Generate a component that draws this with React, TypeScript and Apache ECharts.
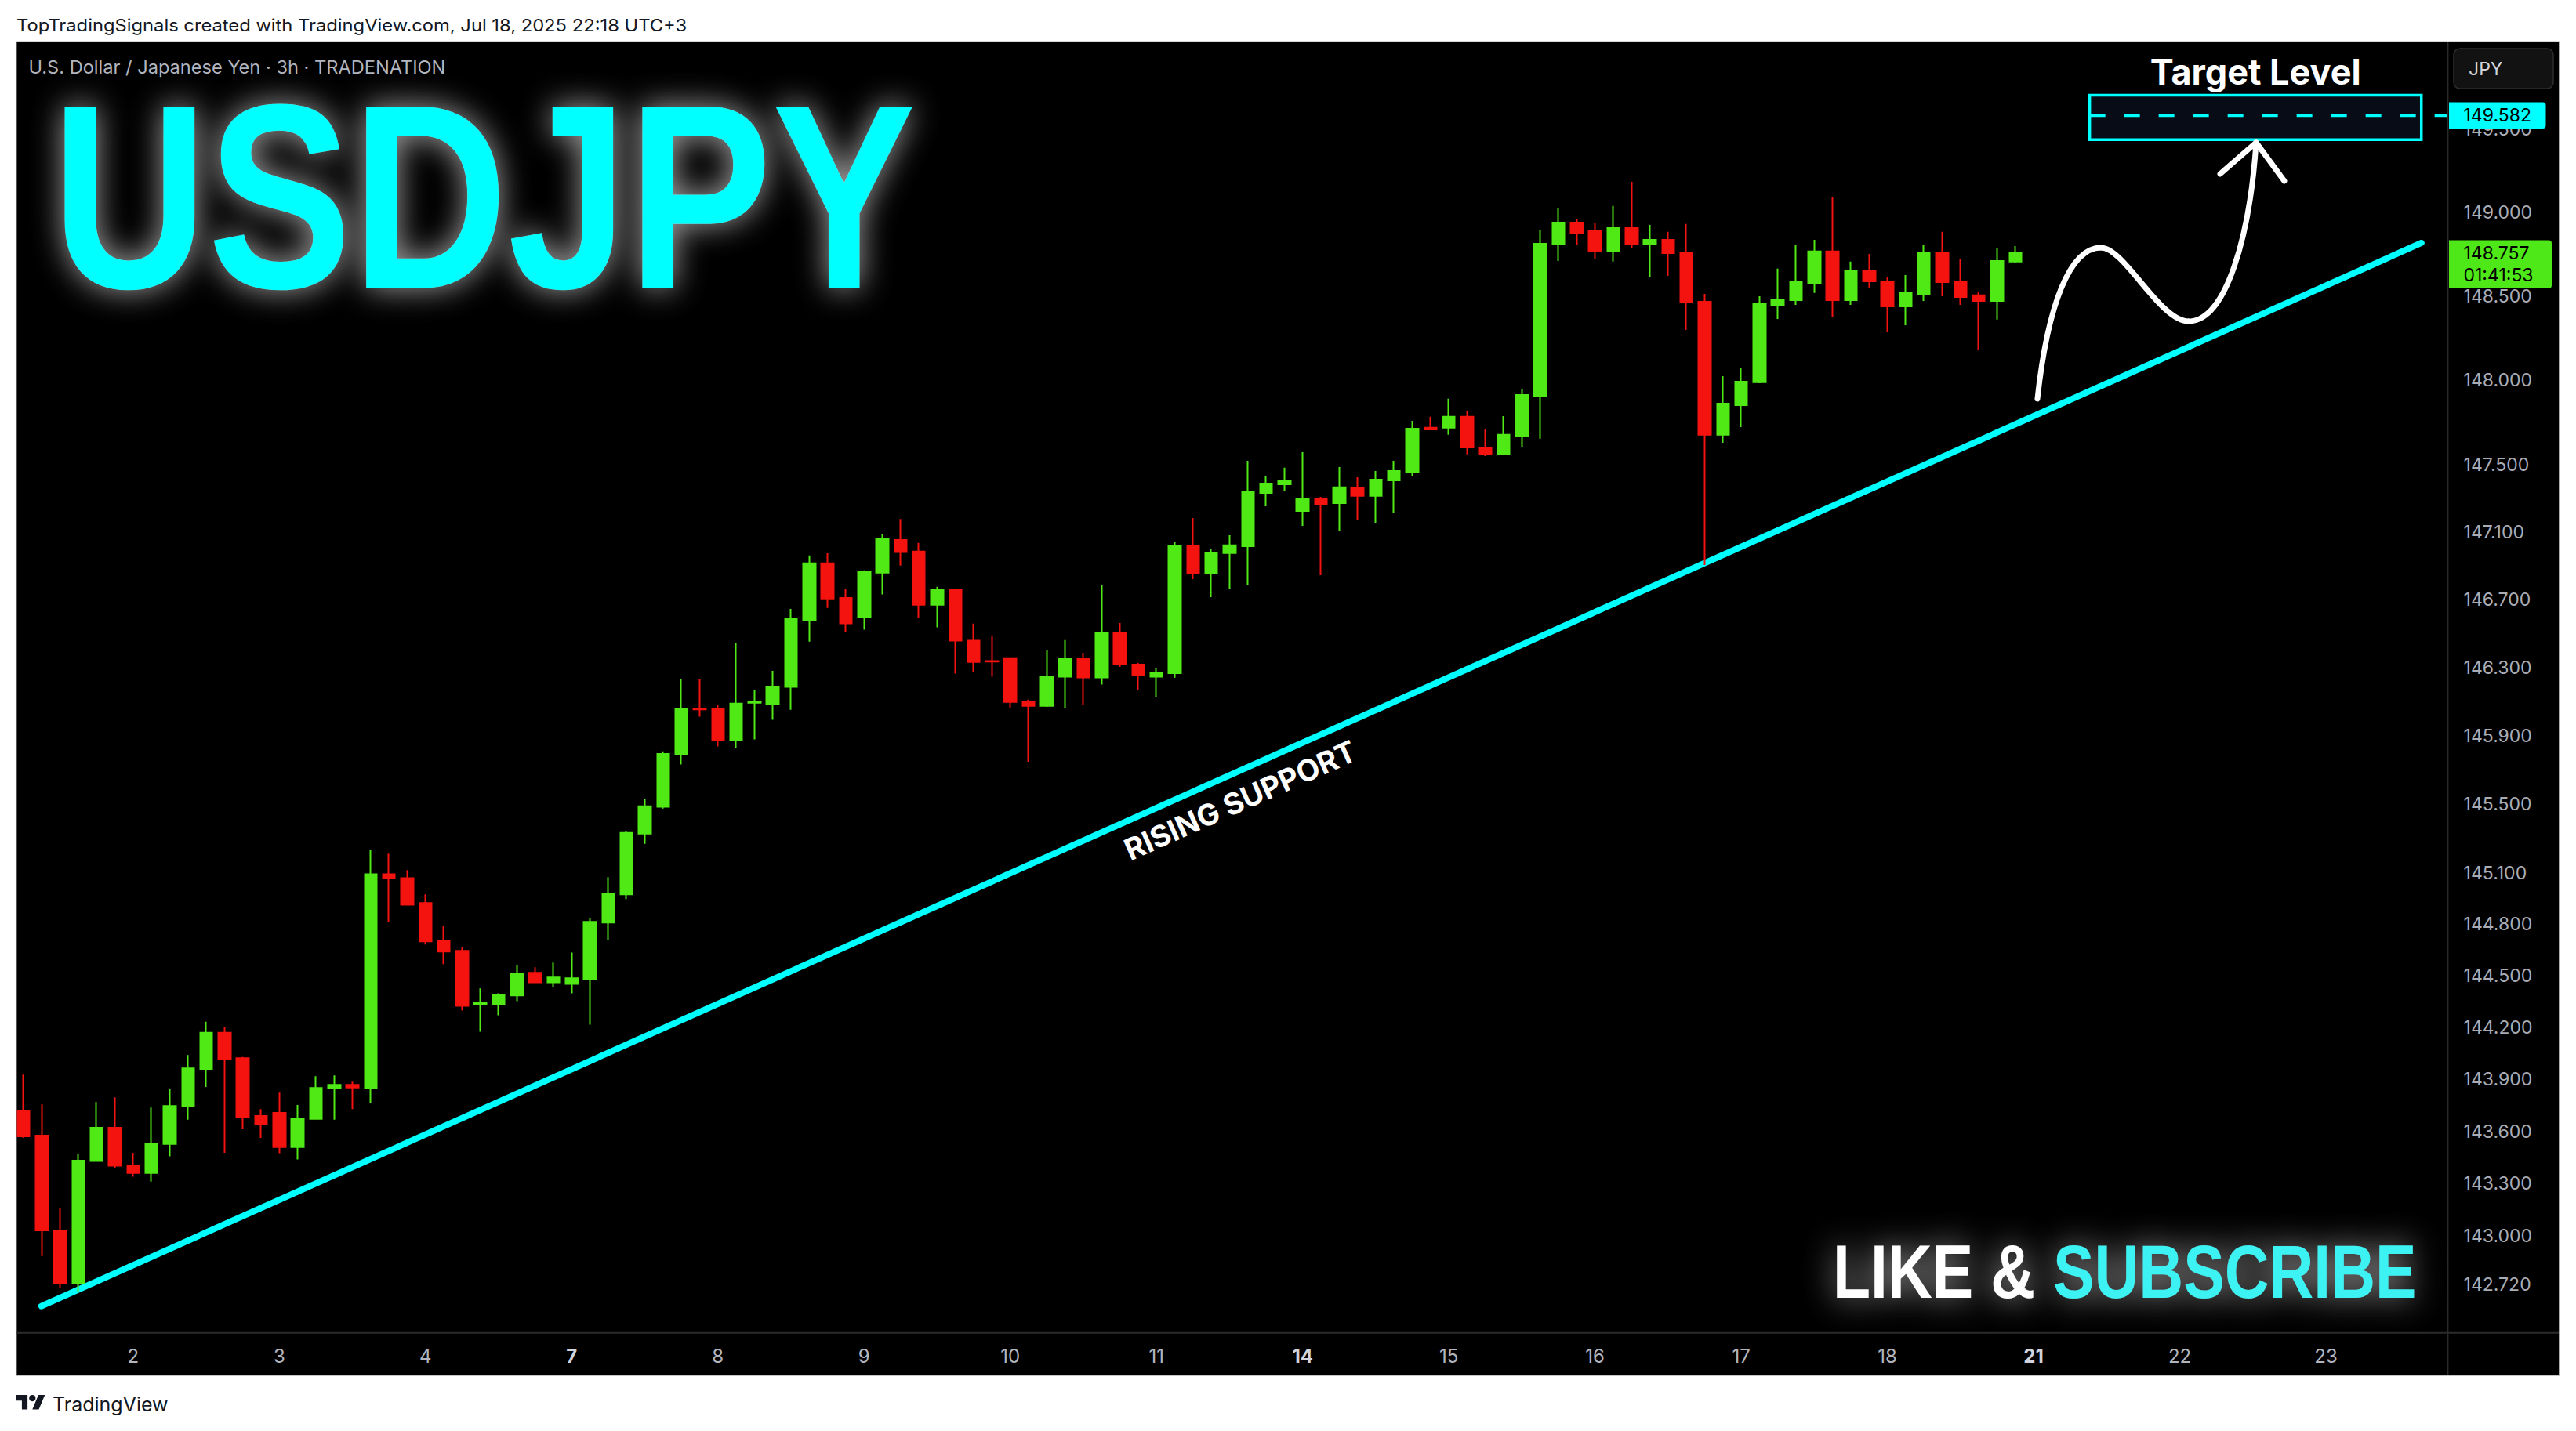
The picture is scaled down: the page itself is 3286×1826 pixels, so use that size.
import React, { useEffect, useRef } from 'react';
import * as echarts from 'echarts';

// ---------- data (USDJPY 3h, TRADENATION) ----------
const opens = [
  143.720, 143.576, 143.030, 142.725, 143.429, 143.621, 143.400, 143.361, 143.528, 143.744,
  143.961, 144.171, 144.023, 143.689, 143.707, 143.510, 143.672, 143.848, 143.869, 143.851,
  145.092, 145.069, 144.924, 144.705, 144.646, 144.338, 144.336, 144.386, 144.518, 144.463,
  144.454, 144.481, 144.810, 144.974, 145.328, 145.485, 145.793, 146.058, 146.056, 145.874,
  146.094, 146.085, 146.187, 146.581, 146.915, 146.711, 146.598, 146.860, 147.053, 146.984,
  146.670, 146.761, 146.459, 146.339, 146.356, 146.101, 146.076, 146.247, 146.351, 146.242,
  146.508, 146.319, 146.247, 146.268, 147.016, 146.859, 146.975, 147.016, 147.331, 147.382,
  147.224, 147.294, 147.271, 147.359, 147.313, 147.405, 147.456, 147.717, 147.717, 147.782,
  147.600, 147.563, 147.670, 147.907, 148.809, 148.940, 148.893, 148.771, 148.907, 148.809,
  148.837, 148.762, 148.467, 147.675, 147.851, 147.987, 148.448, 148.476, 148.579, 148.767,
  148.476, 148.654, 148.589, 148.439, 148.514, 148.757, 148.589, 148.505, 148.472, 148.706,
];
const closes = [
  143.572, 143.030, 142.725, 143.432, 143.621, 143.402, 143.361, 143.531, 143.747, 143.964,
  144.171, 144.015, 143.681, 143.641, 143.510, 143.675, 143.851, 143.869, 143.853, 145.092,
  145.069, 144.914, 144.700, 144.641, 144.326, 144.345, 144.390, 144.513, 144.463, 144.491,
  144.486, 144.814, 144.978, 145.333, 145.488, 145.794, 146.056, 146.055, 145.874, 146.089,
  146.098, 146.190, 146.586, 146.915, 146.707, 146.560, 146.863, 147.058, 146.981, 146.670,
  146.761, 146.459, 146.333, 146.336, 146.099, 146.076, 146.250, 146.351, 146.242, 146.508,
  146.320, 146.254, 146.273, 147.016, 146.859, 146.979, 147.021, 147.336, 147.387, 147.405,
  147.294, 147.266, 147.364, 147.313, 147.410, 147.461, 147.712, 147.707, 147.782, 147.600,
  147.563, 147.675, 147.912, 148.813, 148.940, 148.879, 148.771, 148.907, 148.809, 148.837,
  148.757, 148.462, 147.675, 147.861, 147.991, 148.453, 148.481, 148.584, 148.767, 148.476,
  148.654, 148.589, 148.439, 148.519, 148.757, 148.584, 148.495, 148.472, 148.710, 148.757,
];
const lows = [
  143.564, 142.883, 142.700, 142.677, 143.428, 143.388, 143.339, 143.311, 143.456, 143.668,
  143.857, 143.477, 143.612, 143.563, 143.474, 143.438, 143.668, 143.668, 143.729, 143.762,
  144.814, 144.910, 144.682, 144.568, 144.299, 144.176, 144.272, 144.354, 144.463, 144.436,
  144.399, 144.217, 144.709, 144.946, 145.269, 145.475, 145.732, 146.012, 145.838, 145.828,
  145.879, 145.994, 146.053, 146.453, 146.652, 146.512, 146.524, 146.731, 146.901, 146.593,
  146.537, 146.265, 146.277, 146.247, 146.066, 145.749, 146.070, 146.063, 146.081, 146.201,
  146.305, 146.167, 146.126, 146.241, 146.822, 146.715, 146.766, 146.785, 147.252, 147.340,
  147.136, 146.845, 147.104, 147.169, 147.150, 147.215, 147.433, 147.703, 147.675, 147.559,
  147.549, 147.563, 147.605, 147.652, 148.710, 148.809, 148.720, 148.706, 148.785, 148.617,
  148.621, 148.299, 146.905, 147.628, 147.721, 147.982, 148.364, 148.448, 148.519, 148.378,
  148.448, 148.547, 148.285, 148.327, 148.472, 148.500, 148.448, 148.182, 148.360, 148.696,
];
const highs = [
  143.928, 143.756, 143.161, 143.472, 143.770, 143.797, 143.477, 143.738, 143.847, 144.041,
  144.234, 144.203, 144.030, 143.729, 143.824, 143.752, 143.919, 143.923, 143.887, 145.233,
  145.211, 145.115, 144.974, 144.791, 144.668, 144.427, 144.399, 144.564, 144.550, 144.577,
  144.636, 144.837, 145.074, 145.341, 145.529, 145.809, 146.231, 146.236, 146.083, 146.443,
  146.167, 146.282, 146.646, 146.961, 146.974, 146.761, 146.873, 147.090, 147.177, 147.035,
  146.776, 146.764, 146.559, 146.485, 146.360, 146.112, 146.406, 146.462, 146.388, 146.785,
  146.563, 146.328, 146.296, 147.039, 147.183, 146.998, 147.081, 147.521, 147.433, 147.480,
  147.572, 147.308, 147.484, 147.424, 147.461, 147.521, 147.758, 147.782, 147.889, 147.819,
  147.707, 147.786, 147.945, 148.893, 149.024, 148.963, 148.935, 149.039, 149.184, 148.926,
  148.884, 148.931, 148.514, 148.024, 148.070, 148.500, 148.664, 148.804, 148.837, 149.090,
  148.706, 148.752, 148.612, 148.626, 148.809, 148.884, 148.724, 148.523, 148.790, 148.799,
];

const dayTickIndex = [6, 14, 22, 30, 38, 46, 54, 62, 70, 78, 86, 94, 102, 110, 118, 126];
const dayTickLabels = ['2', '3', '4', '7', '8', '9', '10', '11', '14', '15', '16', '17', '18', '21', '22', '23'];
const weekStartLabels = ['7', '14', '21'];
const slotCount = 133;

const priceTicks = [142.72, 143.0, 143.3, 143.6, 143.9, 144.2, 144.5, 144.8, 145.1, 145.5, 145.9, 146.3, 146.7, 147.1, 147.5, 148.0, 148.5, 149.0, 149.5];
const priceMin = 142.443;
const priceMax = 150.022;

const supportLine = [[0.98, 142.596], [131.22, 148.818]];
const targetBoxX = [113.07, 131.22];
const targetBoxY = [149.436, 149.703];
const targetPrice = 149.582;
const targetLineEnd = 132.66;
const lastPrice = 148.757;
const countdown = '01:41:53';
const arrowCurve = [
  [110.21, 147.889], [110.77, 148.444], [111.97, 148.790], [113.69, 148.790],
  [114.97, 148.790], [116.90, 148.350], [118.49, 148.350],
  [120.55, 148.350], [121.84, 148.865], [122.18, 149.419],
];
const arrowHead = [[120.21, 149.231], [122.18, 149.419], [123.72, 149.189]];
const supportLabelAnchor = [66.58, 145.524];

const GREEN = '#50e916';
const RED = '#f5130f';
const CYAN = '#00ffff';
const UI_FONT = 'Inter, "DejaVu Sans", sans-serif';
const DISPLAY = '"Liberation Sans", Arial, sans-serif';

echarts.graphic.registerShape(
  'tvlogo',
  echarts.graphic.extendPath('M14 22H7V11H0V4h14v18zM28 22h-8l7.5-18h8L28 22zM24 8a4 4 0 1 1 -8 0a4 4 0 1 1 8 0z', {})
);

export default function App() {
  const ref = useRef<HTMLDivElement>(null);

  useEffect(() => {
    if (!ref.current) return;
    const chart = echarts.init(ref.current, null, { renderer: 'svg' });

    const categories = Array.from({ length: slotCount }, (_, i) => {
      const k = dayTickIndex.indexOf(i);
      return k >= 0 ? dayTickLabels[k] : '';
    });
    const candleData = opens.map((o, i) => [o, closes[i], lows[i], highs[i]]);

    chart.setOption({
      animation: false,
      backgroundColor: '#ffffff',
      grid: { left: 18.35, top: 54, width: 3100.2, height: 1646.7 },
      xAxis: [
        {
          type: 'category',
          data: categories,
          boundaryGap: true,
          axisLine: { show: false },
          axisTick: { show: false },
          splitLine: { show: false },
          axisLabel: {
            interval: 0,
            margin: 29.3,
            verticalAlign: 'middle',
            color: '#b2b5be',
            fontFamily: UI_FONT,
            fontSize: 24,
            formatter: (v: string) => (weekStartLabels.includes(v) ? `{b|${v}}` : v),
            rich: { b: { fontWeight: 'bold', color: '#d1d4dc', fontFamily: UI_FONT, fontSize: 24 } },
          },
        },
        { type: 'value', min: -0.5, max: slotCount - 0.5, show: false },
      ],
      yAxis: {
        type: 'log',
        logBase: 10,
        min: priceMin,
        max: priceMax,
        position: 'right',
        axisLine: { show: false },
        axisTick: { show: false },
        splitLine: { show: false },
        axisLabel: {
          customValues: priceTicks,
          formatter: (v: number) => Number(v).toFixed(3),
          color: '#a9acb5',
          fontFamily: UI_FONT,
          fontSize: 23,
          margin: 24,
          align: 'left',
          verticalAlign: 'middle',
        },
      },
      series: [
        {
          type: 'line',
          xAxisIndex: 1,
          yAxisIndex: 0,
          data: supportLine,
          symbol: 'none',
          clip: false,
          silent: true,
          z: 2,
          lineStyle: { color: CYAN, width: 8, cap: 'round' },
        },
        {
          type: 'candlestick',
          xAxisIndex: 0,
          yAxisIndex: 0,
          data: candleData,
          barWidth: 16,
          z: 3,
          itemStyle: { color: GREEN, color0: RED, borderColor: GREEN, borderColor0: RED, borderWidth: 2 },
        },
        {
          type: 'line',
          xAxisIndex: 1,
          yAxisIndex: 0,
          data: [],
          z: 4,
          markArea: {
            silent: true,
            itemStyle: { color: '#070c16', borderColor: CYAN, borderWidth: 3.5 },
            data: [[{ xAxis: targetBoxX[0], yAxis: targetBoxY[1] }, { xAxis: targetBoxX[1], yAxis: targetBoxY[0] }]],
          },
        },
        {
          type: 'line',
          xAxisIndex: 1,
          yAxisIndex: 0,
          data: [[targetBoxX[0], targetPrice], [targetLineEnd, targetPrice]],
          symbol: 'none',
          clip: false,
          silent: true,
          z: 5,
          lineStyle: { color: CYAN, width: 4, type: [20, 24] },
        },
      ],
    });

    const toPx = (p: number[]) => chart.convertToPixel({ xAxisIndex: 1, yAxisIndex: 0 }, p) as number[];
    const yOf = (price: number) => chart.convertToPixel({ yAxisIndex: 0 }, price) as number;

    const c = arrowCurve.map(toPx);
    const head = arrowHead.map(toPx);
    const boxTL = toPx([targetBoxX[0], targetBoxY[1]]);
    const boxBR = toPx([targetBoxX[1], targetBoxY[0]]);
    const lab = toPx(supportLabelAnchor);
    const sA = toPx(supportLine[0]);
    const sB = toPx(supportLine[1]);
    const angle = Math.atan2(sA[1] - sB[1], sB[0] - sA[0]);
    const yTarget = yOf(targetPrice);
    const yLast = yOf(lastPrice);

    const white = { stroke: '#ffffff', lineWidth: 7, lineCap: 'round', lineJoin: 'round', fill: null };
    const glow = { textShadowColor: 'rgba(180,180,180,0.95)', textShadowBlur: 40 };

    const graphics: any[] = [
      // chart pane
      { type: 'rect', z: -1, silent: true, shape: { x: 20.7, y: 53.3, width: 3244.1, height: 1701.7 }, style: { fill: '#000000', stroke: '#b4b4b4', lineWidth: 1.5 } },
      { type: 'line', z: 1, silent: true, shape: { x1: 21.5, y1: 1700.7, x2: 3264, y2: 1700.7 }, style: { stroke: '#2b2b2b', lineWidth: 2 } },
      { type: 'line', z: 1, silent: true, shape: { x1: 3122.4, y1: 54, x2: 3122.4, y2: 1754 }, style: { stroke: '#2b2b2b', lineWidth: 2 } },
      // header & titles
      { type: 'text', z: 10, x: 21, y: 32.3, scaleX: 1.08, style: { text: 'TopTradingSignals created with TradingView.com, Jul 18, 2025 22:18 UTC+3', font: `22px ${UI_FONT}`, fill: '#131722', textAlign: 'left', textVerticalAlign: 'middle' } },
      { type: 'text', z: 10, x: 36.5, y: 85.7, scaleX: 1.05, style: { text: 'U.S. Dollar / Japanese Yen · 3h · TRADENATION', font: `22.5px ${UI_FONT}`, fill: '#b2b5be', textAlign: 'left', textVerticalAlign: 'middle' } },
      { type: 'text', z: 10, x: 66, y: 250.6, scaleX: 0.82, style: { text: 'USDJPY', font: `bold 336px ${DISPLAY}`, fill: CYAN, textAlign: 'left', textVerticalAlign: 'middle', ...glow } },
      { type: 'text', z: 10, x: 2338, y: 1623.6, scaleX: 0.82, style: { text: 'LIKE &', font: `bold 96px ${DISPLAY}`, fill: '#ffffff', textAlign: 'left', textVerticalAlign: 'middle', ...glow } },
      { type: 'text', z: 10, x: 2619, y: 1623.6, scaleX: 0.82, style: { text: 'SUBSCRIBE', font: `bold 96px ${DISPLAY}`, fill: '#3cf2f2', textAlign: 'left', textVerticalAlign: 'middle', ...glow } },
      // target level
      { type: 'text', z: 10, x: (boxTL[0] + boxBR[0]) / 2, y: boxTL[1] - 29.7, style: { text: 'Target Level', font: `bold 45px ${UI_FONT}`, fill: '#ffffff', textAlign: 'center', textVerticalAlign: 'middle' } },
      // projected path arrow
      { type: 'bezierCurve', z: 10, silent: true, shape: { x1: c[0][0], y1: c[0][1], cpx1: c[1][0], cpy1: c[1][1], cpx2: c[2][0], cpy2: c[2][1], x2: c[3][0], y2: c[3][1] }, style: white },
      { type: 'bezierCurve', z: 10, silent: true, shape: { x1: c[3][0], y1: c[3][1], cpx1: c[4][0], cpy1: c[4][1], cpx2: c[5][0], cpy2: c[5][1], x2: c[6][0], y2: c[6][1] }, style: white },
      { type: 'bezierCurve', z: 10, silent: true, shape: { x1: c[6][0], y1: c[6][1], cpx1: c[7][0], cpy1: c[7][1], cpx2: c[8][0], cpy2: c[8][1], x2: c[9][0], y2: c[9][1] }, style: white },
      { type: 'polyline', z: 10, silent: true, shape: { points: head }, style: white },
      // support label
      { type: 'text', z: 10, x: lab[0], y: lab[1], rotation: angle, style: { text: 'RISING SUPPORT', font: `bold 38px ${UI_FONT}`, fill: '#ffffff', textAlign: 'center', textVerticalAlign: 'middle' } },
      // price scale widgets
      { type: 'rect', z: 50, silent: true, shape: { x: 3130, y: 62, width: 127, height: 51, r: 8 }, style: { fill: '#121212', stroke: '#2e2e2e', lineWidth: 1.5 } },
      { type: 'text', z: 51, x: 3149, y: 88, style: { text: 'JPY', font: `23px ${UI_FONT}`, fill: '#d1d4dc', textAlign: 'left', textVerticalAlign: 'middle' } },
      { type: 'rect', z: 50, silent: true, shape: { x: 3124, y: yTarget - 16.8, width: 123.5, height: 33.6, r: [0, 4, 4, 0] }, style: { fill: CYAN } },
      { type: 'text', z: 51, x: 3142.5, y: yTarget, style: { text: targetPrice.toFixed(3), font: `23px ${UI_FONT}`, fill: '#000000', textAlign: 'left', textVerticalAlign: 'middle' } },
      { type: 'rect', z: 50, silent: true, shape: { x: 3124, y: yLast - 16.6, width: 131, height: 61.6, r: [0, 4, 4, 0] }, style: { fill: '#4ee717' } },
      { type: 'text', z: 51, x: 3142.5, y: yLast + 0.3, style: { text: lastPrice.toFixed(3), font: `23px ${UI_FONT}`, fill: '#000000', textAlign: 'left', textVerticalAlign: 'middle' } },
      { type: 'text', z: 51, x: 3142.5, y: yLast + 28.4, style: { text: countdown, font: `23px ${UI_FONT}`, fill: '#000000', textAlign: 'left', textVerticalAlign: 'middle' } },
      // footer
      { type: 'tvlogo', z: 10, silent: true, x: 20.7, y: 1775.8, scaleX: 1.03, scaleY: 1.03, style: { fill: '#131722' } },
      { type: 'text', z: 10, x: 67, y: 1791.7, style: { text: 'TradingView', font: `25px ${UI_FONT}`, fill: '#131722', textAlign: 'left', textVerticalAlign: 'middle' } },
    ];

    chart.setOption({ graphic: { elements: graphics } });

    return () => chart.dispose();
  }, []);

  return <div ref={ref} style={{ position: 'fixed', left: 0, top: 0, width: 3286, height: 1826 }} />;
}
